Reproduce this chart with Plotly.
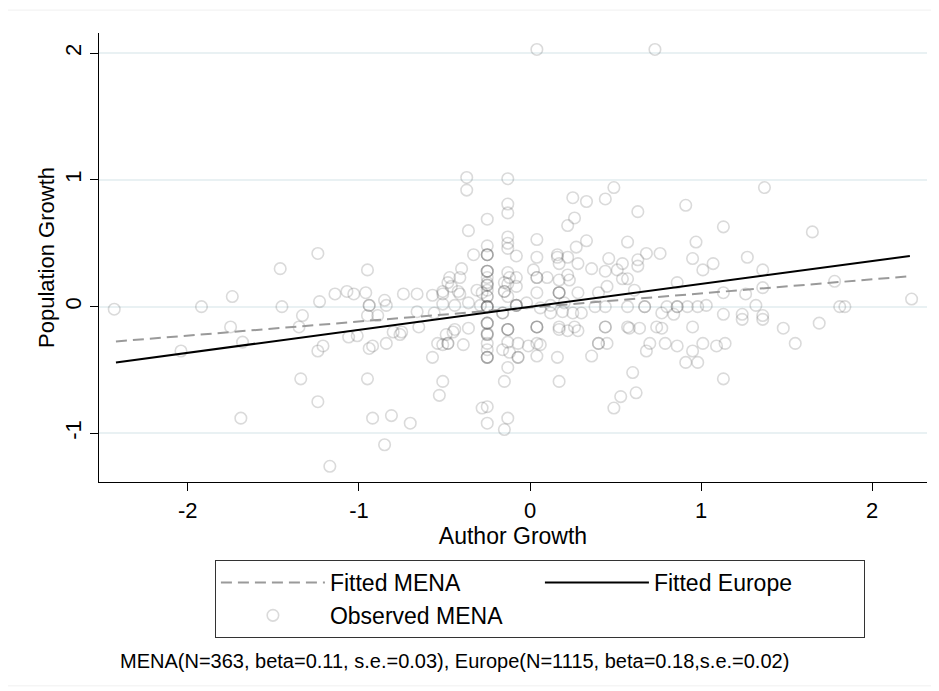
import plotly.graph_objects as go

# Observed MENA points (Author Growth, Population Growth)
obs_x = [
    -2.43, -2.04, -1.92, -1.74, -1.75, -1.68, -1.69, -1.46, -1.45, -1.33, -1.35, -1.34,
    -1.24, -1.23, -1.14, -1.07, -1.03, -0.96, -0.95, -0.94, -0.94, -0.85,
    -0.84, -0.95, -0.89, -1.24, -1.21, -1.06, -1.01, -0.94, -0.92, -0.84,
    -0.80, -0.76, -0.75, -0.95, -1.24, -0.92, -0.81, -0.70, -0.85, -1.17,
    -0.37, -0.37, -0.36, -0.33, -0.40, -0.41, -0.47, -0.48, -0.46, -0.51,
    -0.42, -0.31, -0.28, -0.41, -0.51, -0.57, -0.66, -0.74, -0.51, -0.44,
    -0.36, -0.29, -0.66, -0.56, -0.65, -0.36, -0.44, -0.49, -0.45, -0.54,
    -0.51, -0.48, -0.48, -0.39, -0.57, -0.51, -0.53, -0.28,
    -0.25, -0.25, -0.25, -0.25, -0.25, -0.25, -0.25, -0.25, -0.25, -0.25,
    -0.25, -0.25, -0.25, -0.25, -0.25, -0.25, -0.25, -0.25, -0.25, -0.25,
    -0.25, -0.25, -0.25, -0.25, -0.25, -0.25, -0.25, -0.25, -0.25, -0.25,
    -0.25, -0.25,
    -0.13, -0.13, -0.13, -0.13, -0.13, -0.13, -0.13, -0.12, -0.13, -0.13,
    -0.13, -0.13, -0.13, -0.13, -0.12, -0.13, -0.13,
    -0.15, -0.15, -0.15, -0.16, -0.16, -0.16, -0.15, -0.15,
    -0.08, -0.08, -0.08, -0.08, -0.08, -0.08, -0.07, -0.07, -0.07, -0.02, -0.01,
    0.04, 0.04, 0.04, 0.04, 0.04, 0.04, 0.04, 0.04, 0.04, 0.04,
    0.04, 0.02, 0.06, 0.06, 0.10, 0.12, 0.12,
    0.16, 0.17, 0.16, 0.17, 0.17, 0.17, 0.17, 0.17, 0.17, 0.16,
    0.17, 0.20, 0.19, 0.22, 0.22, 0.22, 0.22, 0.23,
    0.25, 0.26, 0.27, 0.28, 0.28, 0.25, 0.30, 0.26, 0.28,
    0.33, 0.44, 0.49, 0.33, 0.36, 0.40, 0.38, 0.44, 0.45, 0.46,
    0.44, 0.44, 0.44, 0.40, 0.40, 0.45, 0.36, 0.51, 0.54, 0.57,
    0.54, 0.57, 0.63, 0.63, 0.61, 0.57, 0.67, 0.67, 0.57, 0.58,
    0.64, 0.74, 0.77, 0.63, 0.68, 0.76, 0.70, 0.68, 0.79, 0.80,
    0.77, 0.84, 0.86, 0.86, 0.86, 0.92, 0.98, 1.03, 0.95, 1.07,
    1.01, 0.97, 0.91, 1.13, 1.13, 1.13, 0.95, 0.86, 0.95, 1.01,
    1.09, 1.14, 0.91, 0.98, 0.60, 1.13, 0.62, 0.53, 0.49, 0.73,
    1.37, 1.65, 1.27, 1.36, 1.36, 1.26, 1.78, 2.23, 1.81, 1.84,
    1.32, 1.24, 1.36, 1.24, 1.36, 1.69, 1.48, 1.55,
]
obs_y = [
    -0.02, -0.35, 0.00, 0.08, -0.16, -0.28, -0.88, 0.30, 0.00, -0.07, -0.16, -0.57,
    0.42, 0.04, 0.10, 0.12, 0.10, 0.11, 0.29, 0.01, 0.01, 0.05,
    0.01, -0.07, -0.07, -0.35, -0.31, -0.24, -0.23, -0.33, -0.31, -0.29,
    -0.20, -0.22, -0.20, -0.57, -0.75, -0.88, -0.86, -0.92, -1.09, -1.26,
    1.02, 0.92, 0.60, 0.41, 0.30, 0.23, 0.23, 0.19, 0.16, 0.12,
    0.12, 0.13, 0.11, 0.10, 0.10, 0.09, 0.10, 0.10, 0.02, 0.01,
    0.03, 0.01, -0.04, -0.05, -0.16, -0.17, -0.18, -0.22, -0.20, -0.29,
    -0.30, -0.29, -0.29, -0.30, -0.40, -0.59, -0.70, -0.80,
    0.69, 0.48, 0.41, 0.41, 0.41, 0.28, 0.28, 0.28, 0.23, 0.19,
    0.17, 0.17, 0.13, 0.08, 0.08, 0.00, 0.00, 0.00, 0.00, -0.13,
    -0.13, -0.13, -0.21, -0.22, -0.22, -0.29, -0.34, -0.40, -0.40, -0.40,
    -0.79, -0.92,
    1.01, 0.81, 0.74, 0.55, 0.50, 0.46, 0.27, 0.23, 0.18, 0.08,
    -0.18, -0.18, -0.18, -0.28, -0.36, -0.48, -0.88,
    0.19, 0.12, 0.12, -0.05, -0.05, -0.34, -0.59, -0.97,
    0.40, 0.23, 0.16, 0.01, 0.01, 0.01, -0.29, -0.40, -0.40, 0.03, -0.31,
    2.03, 0.53, 0.39, 0.23, 0.23, 0.11, -0.16, -0.16, -0.16, -0.29,
    -0.39, 0.29, -0.01, -0.30, 0.23, 0.01, -0.05,
    0.41, 0.34, 0.39, 0.21, 0.11, 0.11, 0.11, -0.16, -0.18, -0.40,
    -0.59, 0.03, -0.04, 0.39, 0.25, 0.64, -0.19, 0.21,
    0.86, 0.70, 0.47, 0.34, 0.11, -0.05, -0.05, -0.16, -0.19,
    0.83, 0.85, 0.94, 0.52, 0.30, 0.11, 0.00, 0.28, 0.16, 0.38,
    0.00, -0.16, -0.16, -0.29, -0.29, -0.29, -0.39, 0.29, 0.22, 0.22,
    0.34, 0.51, 0.37, 0.32, 0.13, 0.00, 0.00, 0.00, -0.16, -0.17,
    -0.17, -0.16, -0.17, 0.75, 0.42, 0.42, -0.29, -0.35, -0.29, 0.00,
    -0.05, -0.06, 0.19, 0.00, 0.00, 0.00, 0.00, 0.01, 0.38, 0.34,
    0.29, 0.51, 0.80, 0.63, 0.11, -0.06, -0.16, -0.31, -0.35, -0.29,
    -0.31, -0.29, -0.44, -0.44, -0.52, -0.57, -0.68, -0.71, -0.80, 2.03,
    0.94, 0.59, 0.39, 0.29, 0.15, 0.10, 0.20, 0.06, 0.00, 0.00,
    0.01, -0.06, -0.07, -0.10, -0.10, -0.13, -0.17, -0.29,
]

# Fitted lines (end points)
fit_x = [-2.42, 2.22]
fit_mena_y = [-0.275, 0.24]
fit_europe_y = [-0.44, 0.40]

x_ticks = [-2, -1, 0, 1, 2]
y_ticks = [-1, 0, 1, 2]
note = "MENA(N=363, beta=0.11, s.e.=0.03), Europe(N=1115, beta=0.18,s.e.=0.02)"

FONT = "Liberation Sans, Arial, sans-serif"

fig = go.Figure()
fig.add_trace(go.Scatter(
    x=obs_x, y=obs_y, mode="markers", name="Observed MENA", legendrank=3,
    marker=dict(symbol="circle-open", size=11.5, color="rgba(70,70,70,0.2)",
                line=dict(width=1.6, color="rgba(70,70,70,0.2)")),
    hoverinfo="x+y",
))
fig.add_trace(go.Scatter(
    x=fit_x, y=fit_mena_y, mode="lines", name="Fitted MENA", legendrank=1,
    line=dict(color="#9a9a9a", width=2, dash="11px,6px"),
))
fig.add_trace(go.Scatter(
    x=fit_x, y=fit_europe_y, mode="lines", name="Fitted Europe", legendrank=2,
    line=dict(color="black", width=2),
))

# page body adds an 8px offset, so the figure is 8px smaller on each side
fig.update_layout(
    width=931, height=683,
    margin=dict(l=91, r=12, t=25, b=209),
    paper_bgcolor="white", plot_bgcolor="white",
    font=dict(family=FONT, color="black"),
    showlegend=True,
    legend=dict(
        orientation="h", x=0.140, y=-0.1737, xanchor="left", yanchor="top",
        bordercolor="#333333", borderwidth=1, bgcolor="white",
        font=dict(size=23, family=FONT, color="black"),
        itemwidth=104, entrywidth=205, entrywidthmode="pixels",
    ),
    xaxis=dict(
        range=[-2.519, 2.320], tickvals=x_ticks, ticktext=[str(v) for v in x_ticks],
        showline=True, linecolor="black", linewidth=1.3,
        ticks="outside", ticklen=8, tickwidth=1.3, tickcolor="black",
        showgrid=False, zeroline=False,
        tickfont=dict(size=22, family=FONT),
        title=dict(text="Author Growth", font=dict(size=23, family=FONT), standoff=4),
    ),
    yaxis=dict(
        range=[-1.384, 2.160], tickvals=y_ticks, ticktext=[str(v) for v in y_ticks],
        showline=True, linecolor="black", linewidth=1.3,
        ticks="outside", ticklen=8, tickwidth=1.3, tickcolor="black",
        showgrid=True, gridcolor="#E9F1F3", gridwidth=1.5, zeroline=False,
        tickangle=-90, tickfont=dict(size=22, family=FONT),
        title=dict(text="Population Growth", font=dict(size=22, family=FONT), standoff=0),
    ),
    annotations=[dict(
        text=note, xref="paper", yref="paper", x=0.023, y=-0.3987,
        xanchor="left", yanchor="middle", showarrow=False,
        font=dict(size=20, family=FONT, color="black"),
    )],
    shapes=[dict(
        type="rect", xref="paper", yref="paper",
        x0=-0.1135, x1=1.0097, y0=-0.454, y1=1.051,
        line=dict(color="#f0f0f0", width=1), layer="below",
    )],
)

fig.write_html("out.html")
